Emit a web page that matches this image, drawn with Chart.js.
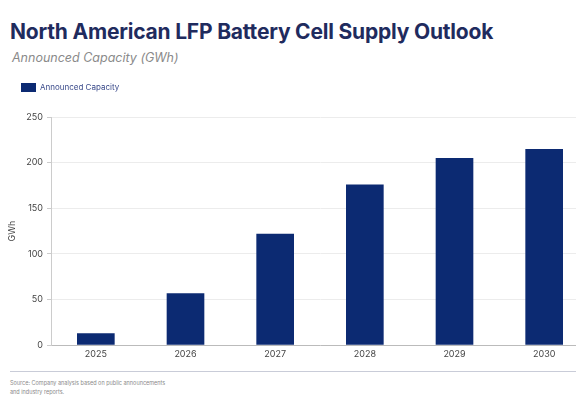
<!DOCTYPE html>
<html>
<head>
<meta charset="utf-8">
<script src="https://cdn.jsdelivr.net/npm/chart.js@4.4.1/dist/chart.umd.min.js"></script>
<style>
  html, body { margin: 0; padding: 0; background: #fff; overflow: hidden; }
  body { width: 576px; height: 399px; position: relative; font-family: Inter, "Open Sans", sans-serif; }
  #title { position: absolute; left: 10px; top: 19px; font-size: 21px; font-weight: 700; color: #1f2b5e; white-space: nowrap; letter-spacing: -0.2px; }
  #subtitle { position: absolute; left: 12px; top: 50px; font-size: 12.5px; font-style: italic; color: #8a8a8a; white-space: nowrap; }
  #wrap { position: absolute; left: 0; top: 70px; width: 595px; height: 294px; }
  #rule { position: absolute; left: 10px; top: 371px; width: 566px; height: 1px; background: #c9ccd8; }
  #source { position: absolute; left: 10px; top: 379px; font-size: 5.5px; line-height: 9px; color: #8a8a8a; width: 170px; }
</style>
</head>
<body>
<div id="title">North American LFP Battery Cell Supply Outlook</div>
<div id="subtitle">Announced Capacity (GWh)</div>
<div id="wrap"><canvas id="capChart"></canvas></div>
<div id="rule"></div>
<div id="source">Source: Company analysis based on public announcements<br>and industry reports.</div>
<script>
const years = ["2025", "2026", "2027", "2028", "2029", "2030"];
const capacity = [13, 57, 122, 176, 205, 215];
const yTicks = [0, 50, 100, 150, 200, 250];

// push the legend right and leave a gap under it
const legendTweak = {
    id: "legendTweak",
    beforeInit(chart) {
        const fit = chart.legend.fit;
        chart.legend.fit = function () {
            fit.call(this);
            this.height += 15;
        };
    },
    afterLayout(chart) {
        chart.legend.left += 15;
        chart.legend.right += 15;
    }
};

function renderChart() {
    const ctx = document.getElementById("capChart").getContext("2d");

    new Chart(ctx, {
        type: "bar",
        data: {
            labels: years,
            datasets: [
                {
                    label: "Announced Capacity",
                    data: capacity,
                    backgroundColor: "#0c2a72",
                    borderWidth: 0,
                    barPercentage: 0.5,
                    categoryPercentage: 0.84
                }
            ]
        },
        plugins: [legendTweak],
        options: {
            responsive: true,
            maintainAspectRatio: false,
            animation: false,
            layout: { padding: { left: 0, right: 6, top: 7, bottom: 0 } },
            plugins: {
                legend: {
                    align: "start",
                    labels: {
                        boxWidth: 15,
                        boxHeight: 9,
                        color: "#3a4a8a",
                        font: { size: 8, family: "Inter" },
                        padding: 6
                    }
                },
                tooltip: { enabled: false }
            },
            scales: {
                x: {
                    grid: { display: false, drawTicks: false },
                    border: { color: "#bbbbbb" },
                    ticks: { color: "#444", font: { size: 9, family: "Inter" }, padding: 4 }
                },
                y: {
                    min: 0,
                    max: 250,
                    afterFit: s => { s.width = 51; },
                    afterBuildTicks: s => { s.ticks = yTicks.map(v => ({ value: v })); },
                    grid: { color: "#ececec", drawTicks: true, tickLength: 4, tickColor: "#cccccc" },
                    border: { color: "#cccccc" },
                    ticks: { color: "#444", font: { size: 9, family: "Inter" }, padding: 4 },
                    title: { display: true, text: "GWh", color: "#444", font: { size: 9, family: "Inter" }, padding: { top: 7, bottom: 0 } }
                }
            }
        }
    });
}
renderChart();
</script>
</body>
</html>
